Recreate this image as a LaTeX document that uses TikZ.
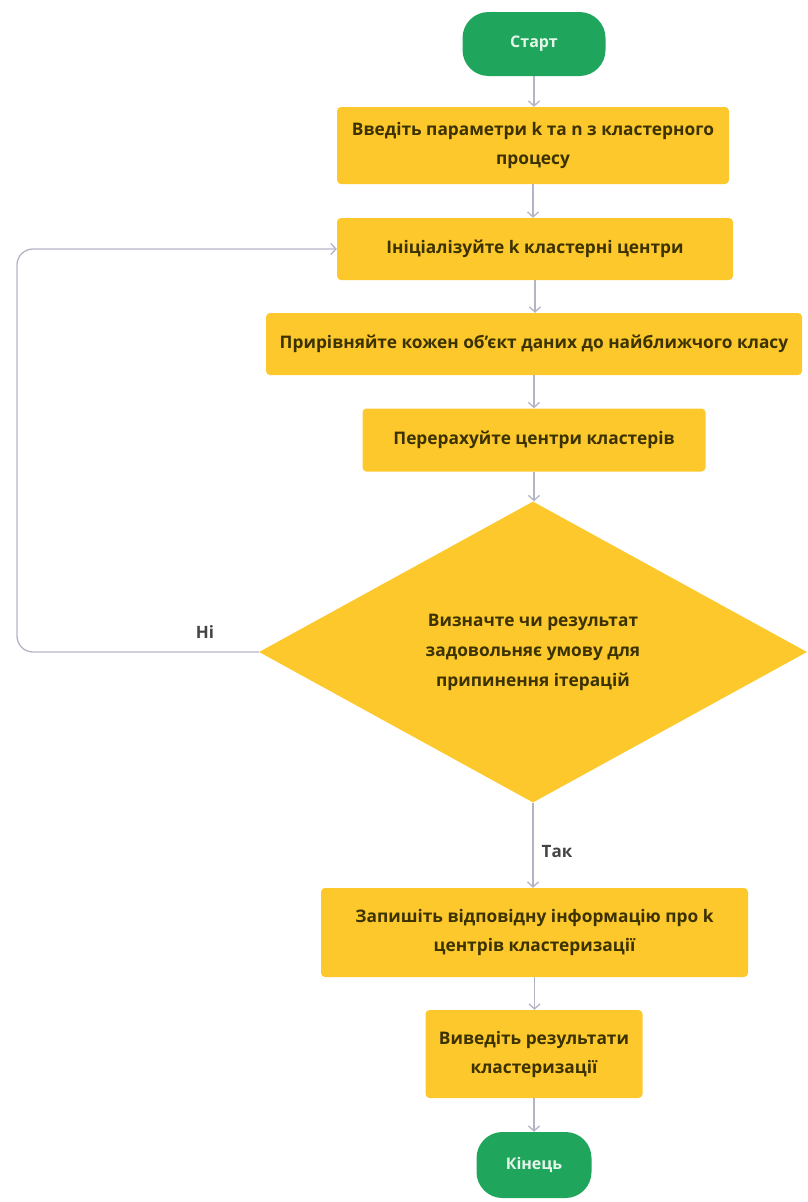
\documentclass[tikz,border=0pt]{standalone}
\usepackage{fontspec}
\setmainfont{Open Sans}
\usetikzlibrary{shapes.geometric,arrows.meta}
\definecolor{boxyellow}{HTML}{FDC82B}
\definecolor{termgreen}{HTML}{20A65C}
\definecolor{termtext}{HTML}{E4F6E9}
\definecolor{textdark}{HTML}{3B3200}
\definecolor{arrowgrey}{HTML}{B5B3C6}
\definecolor{labelgrey}{HTML}{444444}
\begin{document}
\begin{tikzpicture}[x=1pt,y=-1pt,
    proc/.style={rectangle, rounded corners=4pt, fill=boxyellow, text=textdark, align=center,
      inner sep=0pt, font=\fontsize{17.3}{29}\selectfont\bfseries},
    term/.style={rectangle, rounded corners=26pt, fill=termgreen, text=termtext,
      minimum width=143pt, minimum height=64pt, font=\fontsize{16}{19}\selectfont\bfseries},
    decide/.style={diamond, fill=boxyellow, text=textdark, aspect=1.8, inner sep=0pt, align=center,
      font=\fontsize{17.3}{30}\selectfont\bfseries},
    flow/.style={draw=arrowgrey, line width=1.3pt, -{Straight Barb[length=5pt,width=11pt]}},
    lbl/.style={text=labelgrey, font=\fontsize{17}{20}\selectfont\bfseries}]
    \useasboundingbox (0,0) rectangle (807,1202);
    % main column
    \node[term] (start) at (534,44) {Старт};
    \node[proc, minimum width=392pt, minimum height=77pt] (input) at (533,145.5) {Введіть параметри k та n з кластерного\\процесу};
    \node[proc, minimum width=396pt, minimum height=62pt] (init) at (535,249) {Ініціалізуйте k кластерні центри};
    \node[proc, minimum width=536pt, minimum height=62pt] (assign) at (534,344) {Прирівняйте кожен об'єкт даних до найближчого класу};
    \node[proc, minimum width=343pt, minimum height=63pt] (update) at (534,440) {Перерахуйте центри кластерів};
    \node[decide, minimum width=548pt, minimum height=301pt] (check) at (533,652) {Визначте чи результат\\задовольняє умову для\\припинення ітерацій};
    \node[proc, minimum width=427pt, minimum height=89pt] (record) at (534.5,932.5) {Запишіть відповідну інформацію про k\\центрів кластеризації};
    \node[proc, minimum width=217pt, minimum height=88pt] (output) at (534,1054) {Виведіть результати\\кластеризації};
    \node[term, minimum width=115pt, minimum height=66pt] (finish) at (534,1165) {Кінець};
    % connectors
    \foreach \a/\b in {start/input, input/init, init/assign, assign/update, update/check, record/output, output/finish}
      \draw[flow] (\a.south) -- (\a.south |- \b.north);
    \draw[flow] (check.south) -- (check.south |- record.north);
    \node[lbl] (yes) at (557,852) {Так};
    % loop back
    \coordinate (back) at (17,249);
    \draw[flow, rounded corners=16pt] (check.west) -| (back) -- (init.west);
    \node[lbl] (no) at (205,632) {Ні};
\end{tikzpicture}
\end{document}
